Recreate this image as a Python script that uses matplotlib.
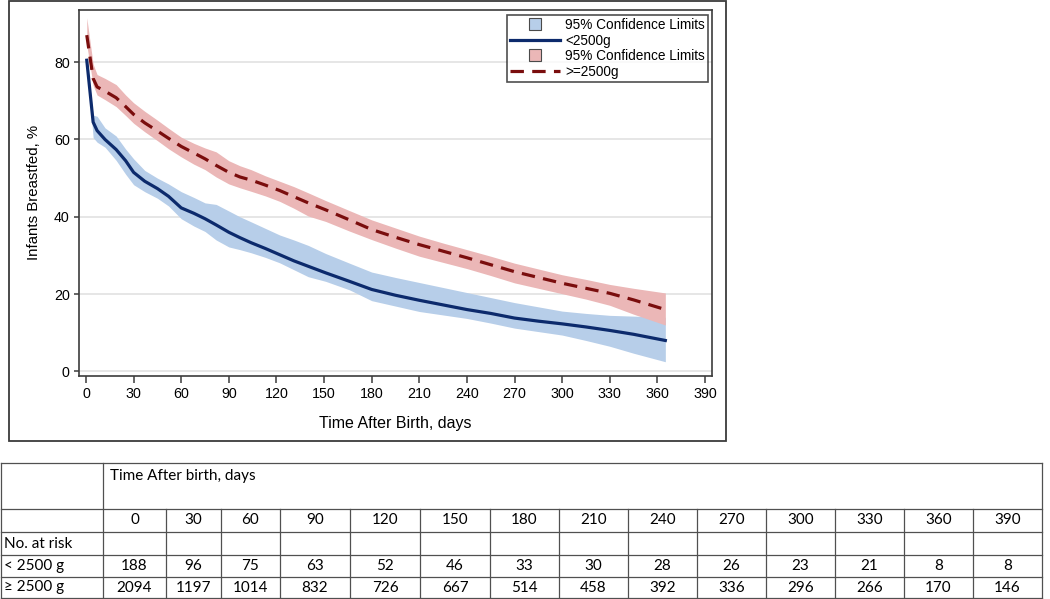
import matplotlib
matplotlib.use('Agg')
import matplotlib.pyplot as plt
from matplotlib.lines import Line2D
from matplotlib.patches import Rectangle

# ---------------- data ----------------
days = [0.5, 4.5, 7, 12, 19, 25, 30, 37, 45, 52, 60, 68, 75, 82, 90, 97, 104, 113,
        122, 131, 140, 151, 166, 180, 195, 210, 225, 240, 255, 270, 285, 300, 315,
        330, 345, 365]

low_bw = [80.5, 64.5, 62.3, 60.0, 57.4, 54.5, 51.5, 49.2, 47.3, 45.3, 42.3, 40.9,
          39.5, 37.9, 36.0, 34.6, 33.3, 31.8, 30.2, 28.6, 27.2, 25.5, 23.3, 21.2,
          19.7, 18.4, 17.2, 16.0, 15.0, 13.8, 13.0, 12.3, 11.5, 10.6, 9.6, 8.0]
low_bw_upper = [81.0, 66.3, 66.0, 63.0, 60.9, 57.5, 55.0, 52.0, 50.0, 48.5, 46.5,
                45.0, 43.6, 43.2, 41.5, 40.0, 38.7, 37.0, 35.3, 34.0, 32.6, 30.5,
                28.0, 25.7, 24.3, 23.0, 21.7, 20.4, 19.1, 17.8, 16.7, 15.6, 15.0,
                14.5, 14.3, 14.0]
low_bw_lower = [80.0, 60.5, 59.3, 58.0, 54.6, 51.0, 48.3, 46.5, 44.8, 42.8, 39.5,
                37.6, 36.2, 34.0, 32.2, 31.5, 30.7, 29.5, 28.1, 26.3, 24.5, 23.3,
                21.1, 18.3, 16.9, 15.5, 14.6, 13.7, 12.5, 11.2, 10.3, 9.4, 8.0,
                6.5, 4.7, 2.5]

norm_bw = [87.0, 75.8, 73.6, 72.5, 70.8, 68.5, 66.5, 64.3, 62.2, 60.3, 58.2, 56.5,
           55.0, 53.3, 51.5, 50.3, 49.5, 48.2, 46.8, 45.2, 43.6, 41.8, 39.2, 36.7,
           34.7, 32.8, 31.1, 29.4, 27.6, 25.8, 24.3, 22.8, 21.5, 20.2, 18.5, 16.0]
norm_bw_upper = [91.5, 79.5, 76.8, 75.8, 74.2, 71.5, 69.5, 67.3, 65.0, 62.9, 60.6,
                 59.0, 57.8, 56.8, 54.5, 53.2, 52.2, 50.6, 49.2, 47.8, 46.2, 44.2,
                 41.6, 39.2, 37.1, 35.0, 33.2, 31.5, 29.8, 28.0, 26.5, 25.0, 23.8,
                 22.5, 21.5, 20.3]
norm_bw_lower = [84.5, 74.0, 71.5, 70.3, 68.5, 66.2, 64.2, 62.0, 59.7, 57.6, 55.5,
                 53.6, 52.2, 50.3, 48.5, 47.5, 46.6, 45.4, 44.0, 42.2, 40.2, 38.8,
                 36.3, 34.1, 31.9, 29.8, 28.2, 26.6, 24.8, 22.9, 21.5, 20.1, 18.7,
                 17.1, 14.8, 12.0]

x_ticks = [0, 30, 60, 90, 120, 150, 180, 210, 240, 270, 300, 330, 360, 390]
y_ticks = [0, 20, 40, 60, 80]

legend_labels = ['95% Confidence Limits', '<2500g', '95% Confidence Limits', '>=2500g']

table_title = 'Time After birth, days'
table_days = ['0', '30', '60', '90', '120', '150', '180', '210', '240', '270',
              '300', '330', '360', '390']
row_labels = ['No. at risk', '< 2500 g', '\u2265 2500 g']
risk_low = [188, 96, 75, 63, 52, 46, 33, 30, 28, 26, 23, 21, 8, 8]
risk_high = [2094, 1197, 1014, 832, 726, 667, 514, 458, 392, 336, 296, 266, 170, 146]

# ---------------- style ----------------
W, H = 1050, 599
plt.rcParams['font.family'] = ['Liberation Sans', 'DejaVu Sans']

BLUE = '#0c2a6c'
BLUE_BAND = '#b7cee9'
RED = '#7a0d0d'
RED_BAND = '#ebb7b7'
FRAME = '#3c3c3c'
DASH = (4.2, 2.6)

fig = plt.figure(figsize=(W / 100, H / 100), dpi=100)


def fx(x):
    return x / W


def fy(y):
    return 1 - y / H


ax_l, ax_r, ax_t, ax_b = 79, 712, 10, 375.5
ax = fig.add_axes([fx(ax_l), fy(ax_b), (ax_r - ax_l) / W, (ax_b - ax_t) / H])

ax.fill_between(days, low_bw_lower, low_bw_upper, color=BLUE_BAND, lw=0, zorder=2)
ax.fill_between(days, norm_bw_lower, norm_bw_upper, color=RED_BAND, lw=0, zorder=3)
ax.plot(days, low_bw, color=BLUE, lw=2.3, zorder=4, solid_joinstyle='round')
ax.plot(days, norm_bw, color=RED, lw=2.3, zorder=5, dashes=DASH)

ax.set_xlim(-4.4, 394.4)
ax.set_ylim(-1.06, 93.5)
ax.set_xticks(x_ticks)
ax.set_yticks(y_ticks)
ax.yaxis.grid(True, color='#e2e2e2', lw=1.2)
ax.set_axisbelow(True)
for s in ax.spines.values():
    s.set_color(FRAME)
    s.set_linewidth(1.2)
ax.tick_params(axis='x', length=5, width=1.1, color=FRAME, labelsize=10.3, pad=3)
ax.tick_params(axis='y', length=3.6, width=1.1, color=FRAME, labelsize=10.3, pad=3)
ax.set_xlabel('Time After Birth, days', fontsize=11.5, labelpad=11)
ax.set_ylabel('Infants Breastfed, %', fontsize=10.8, labelpad=9)

handles = [
    Line2D([], [], linestyle='none', marker='s', markersize=8.5,
           markerfacecolor=BLUE_BAND, markeredgecolor='#4a4a4a', markeredgewidth=0.8),
    Line2D([], [], color=BLUE, lw=2.3),
    Line2D([], [], linestyle='none', marker='s', markersize=8.5,
           markerfacecolor=RED_BAND, markeredgecolor='#4a4a4a', markeredgewidth=0.8),
    Line2D([], [], color=RED, lw=2.3, dashes=DASH),
]
leg = ax.legend(handles, legend_labels, loc='upper right',
                bbox_to_anchor=((708 - ax_l) / (ax_r - ax_l), (ax_b - 15) / (ax_b - ax_t)),
                borderaxespad=0, fontsize=9.8, frameon=True, fancybox=False,
                handlelength=3.7, handletextpad=0.35, labelspacing=0.12,
                borderpad=0.22)
leg.get_frame().set_edgecolor('#222222')
leg.get_frame().set_linewidth(1.2)

# outer chart border
fig.add_artist(Rectangle((fx(9), fy(441)), (726 - 9) / W, (441 - 1) / H,
                         fill=False, ec=FRAME, lw=1.3, transform=fig.transFigure))

# ---------------- table ----------------
TL = '#505050'
col_edges = [103, 166, 221, 280, 350, 420, 490, 559, 628, 697, 766, 835, 904, 973, 1042]
row_edges = [463, 509, 532, 555, 577, 598]
left_x = 1


def hline(y, x0, x1):
    fig.add_artist(Line2D([fx(x0), fx(x1)], [fy(y), fy(y)], color=TL, lw=0.9,
                          transform=fig.transFigure))


def vline(x, y0, y1):
    fig.add_artist(Line2D([fx(x), fx(x)], [fy(y0), fy(y1)], color=TL, lw=0.9,
                          transform=fig.transFigure))


for y in row_edges:
    hline(y, left_x, col_edges[-1])
vline(left_x, row_edges[0], row_edges[-1])
vline(col_edges[0], row_edges[0], row_edges[-1])
vline(col_edges[-1], row_edges[0], row_edges[-1])
for x in col_edges[1:-1]:
    vline(x, row_edges[1], row_edges[-1])

TFONT = ['Lato', 'DejaVu Sans']
TSIZE = 11
fig.text(fx(110), fy(476), table_title, fontsize=TSIZE, family=TFONT,
         ha='left', va='center')

centers = [(col_edges[i] + col_edges[i + 1]) / 2 for i in range(len(col_edges) - 1)]
row_mid = [(row_edges[i] + row_edges[i + 1]) / 2 for i in range(len(row_edges) - 1)]

for cx, lab in zip(centers, table_days):
    fig.text(fx(cx), fy(row_mid[1]), lab, fontsize=TSIZE, family=TFONT,
             ha='center', va='center')
for r, lab in enumerate(row_labels):
    fig.text(fx(4), fy(row_mid[2 + r]), lab, fontsize=TSIZE, family=TFONT,
             ha='left', va='center')
for cx, v in zip(centers, risk_low):
    fig.text(fx(cx), fy(row_mid[3]), str(v), fontsize=TSIZE, family=TFONT,
             ha='center', va='center')
for cx, v in zip(centers, risk_high):
    fig.text(fx(cx), fy(row_mid[4]), str(v), fontsize=TSIZE, family=TFONT,
             ha='center', va='center')

fig.savefig('out.png', dpi=100)
